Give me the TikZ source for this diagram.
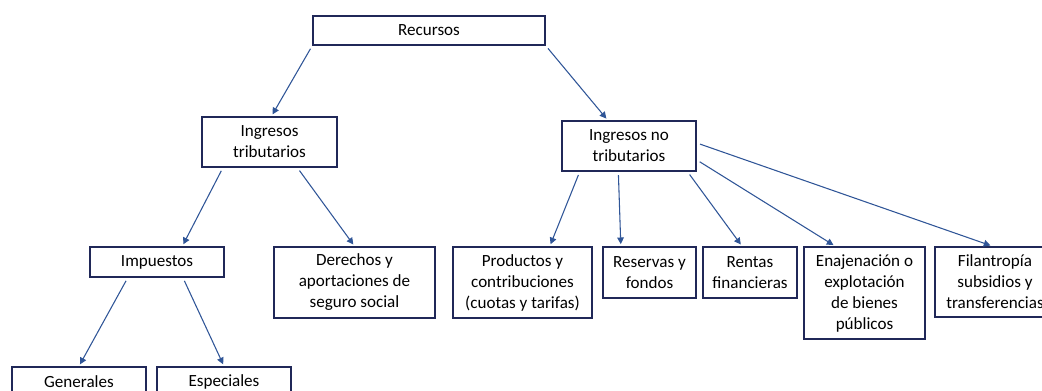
\documentclass[tikz,border=0pt]{standalone}
\usepackage{fontspec}
\setmainfont{Carlito}
\usepackage{xcolor}
\usetikzlibrary{arrows.meta}
\definecolor{boxline}{RGB}{32,40,88}
\definecolor{arrowblue}{RGB}{47,85,151}

\begin{document}
\begin{tikzpicture}[
  x=0.75pt, y=-0.75pt,
  box/.style={draw=boxline,line width=1.3pt,fill=white,align=center,inner sep=0pt,
    font=\fontsize{12.8}{15.75}\selectfont},
  arr/.style={-{Triangle[length=5pt,width=5pt]},arrowblue,line width=0.8pt,
    shorten <=2.5pt,shorten >=1.5pt}
]
  \useasboundingbox (0,0) rectangle (1042,390);

  % levels
  \node[box,minimum width=174pt,minimum height=21.75pt]    (rec)    at (429,30.5)    {Recursos};
  \node[box,minimum width=101.25pt,minimum height=37.5pt]  (trib)   at (269.5,142)   {Ingresos\\tributarios};
  \node[box,minimum width=100.5pt,minimum height=37.5pt]   (notrib) at (629,146)     {Ingresos no\\tributarios};

  \node[box,minimum width=100.5pt,minimum height=22.5pt]   (imp)    at (157,262)     {Impuestos};
  \node[box,minimum width=120.75pt,minimum height=53.25pt] (der)    at (354.5,282.5) {Derechos y\\aportaciones de\\seguro social};
  \node[box,minimum width=104.25pt,minimum height=53.25pt] (prod)   at (522.5,282.5) {Productos y\\contribuciones\\(cuotas y tarifas)};
  \node[box,minimum width=69.75pt,minimum height=38.25pt]  (res)    at (649.5,272.5) {Reservas y\\fondos};
  \node[box,minimum width=70.5pt,minimum height=38.25pt]   (ren)    at (750,272.5)   {Rentas\\financieras};
  \node[box,minimum width=90.75pt,minimum height=69pt]     (ena)    at (864.5,293)   {Enajenación o\\explotación\\de bienes\\públicos};
  \node[box,minimum width=90pt,minimum height=52.5pt]      (fil)    at (995,282)     {Filantropía\\subsidios y\\transferencias};

  \node[box,minimum width=100.5pt,minimum height=22.5pt]   (gen)    at (79,382)      {Generales};
  \node[box,minimum width=100.5pt,minimum height=22.5pt]   (esp)    at (224,382)     {Especiales};

  % connectors
  \draw[arr] (rec.south west) -- ([xshift=1.5pt]trib.north);
  \draw[arr] (rec.south east) -- ([xshift=-16pt]notrib.north);

  \draw[arr] ([xshift=-35pt]trib.south) -- ([xshift=19pt]imp.north);
  \draw[arr] ([xshift=21pt]trib.south)  -- (der.north);
  \draw[arr] ([xshift=-22pt]imp.south)  -- (gen.north);
  \draw[arr] ([xshift=19.5pt]imp.south) -- (esp.north);

  \draw[arr] ([xshift=-37pt]notrib.south)  -- ([xshift=20.5pt]prod.north);
  \draw[arr] ([xshift=-8pt]notrib.south)   -- ([xshift=-21.5pt]res.north);
  \draw[arr] ([xshift=44pt]notrib.south)   -- ([xshift=-6pt]ren.north);
  \draw[arr] ([yshift=-10.5pt]notrib.east) -- ([xshift=-22pt]ena.north);
  \draw[arr] ([yshift=2.25pt]notrib.east)  -- ([xshift=-2pt]fil.north);
\end{tikzpicture}
\end{document}
